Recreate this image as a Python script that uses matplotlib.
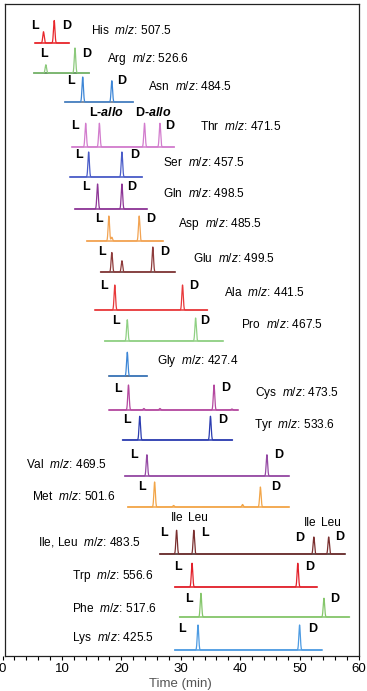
import numpy as np
import matplotlib.pyplot as plt

plt.rcParams['font.family'] = ['Liberation Sans', 'DejaVu Sans']
plt.rcParams['mathtext.fontset'] = 'custom'
plt.rcParams['mathtext.rm'] = 'Liberation Sans'
plt.rcParams['mathtext.it'] = 'Liberation Sans:italic'
plt.rcParams['mathtext.bf'] = 'Liberation Sans:bold'
plt.rcParams['mathtext.bfit'] = 'Liberation Sans:italic:bold'

# data, top to bottom
names = ['His', 'Arg', 'Asn', 'Thr', 'Ser', 'Gln', 'Asp', 'Glu', 'Ala', 'Pro',
         'Gly', 'Cys', 'Tyr', 'Val', 'Met', 'Ile, Leu', 'Trp', 'Phe', 'Lys']
mz = ['507.5', '526.6', '484.5', '471.5', '457.5', '498.5', '485.5', '499.5', '441.5', '467.5',
      '427.4', '473.5', '533.6', '469.5', '501.6', '483.5', '556.6', '517.6', '425.5']
t_start = [5.5, 5.3, 10.5, 11.7, 11.4, 12.2, 14.2, 16.5, 15.6, 17.2,
           18.0, 18.0, 20.2, 20.6, 21.1, 26.5, 29.0, 29.8, 29.0]
t_end = [11.2, 14.5, 22.0, 28.9, 23.5, 24.3, 27.0, 29.0, 34.5, 37.1,
         24.3, 39.6, 38.7, 48.2, 48.2, 57.6, 52.9, 58.4, 53.7]
peak_times = [[6.9, 8.7], [7.3, 12.2], [13.5, 18.4], [14.0, 16.3, 23.9, 26.5],
              [14.5, 20.1], [16.0, 20.1], [17.9, 18.4, 23.0], [18.4, 20.1, 25.3],
              [18.9, 30.3], [21.0, 32.5], [21.0], [21.2, 23.8, 26.5, 35.6, 38.6],
              [23.1, 35.0], [24.3, 44.5], [25.6, 28.8, 40.4, 43.4],
              [29.3, 32.2, 52.4, 54.9], [31.9, 49.7], [33.4, 54.1], [32.9, 50.0]]
peak_heights = [[0.45, 0.9], [0.33, 1.0], [1.0, 0.85], [0.95, 0.95, 0.95, 0.95],
                [1.0, 1.0], [1.0, 1.0], [1.0, 0.15, 1.0], [0.78, 0.45, 1.0],
                [1.0, 1.0], [0.85, 0.92], [0.95], [1.0, 0.06, 0.06, 1.0, 0.04],
                [0.95, 0.95], [0.85, 0.85], [1.0, 0.06, 0.1, 0.8],
                [0.95, 0.95, 0.68, 0.68], [0.95, 0.95], [0.95, 0.75], [1.0, 1.0]]

colors = ['#e8262b', '#8cc97c', '#3d86d6', '#d27ccd', '#4a5cc8', '#8d3596', '#f2a352',
          '#8e3b3b', '#e8383a', '#8fd083', '#3d86d6', '#b4489f', '#2b3cb0', '#9448a3',
          '#f2a548', '#7a2f2f', '#e2202a', '#85c66b', '#4d9be2']
base_colors = ['#e8262b', '#3f7f3a', '#5a6f8c', '#d27ccd', '#4a5cc8', '#8d3596', '#f2a352',
               '#5e2a2a', '#e8383a', '#8fd083', '#2f4a70', '#b4489f', '#2b3cb0', '#9448a3',
               '#f2a548', '#3a1c1c', '#e2202a', '#85c66b', '#4d9be2']

# layout (pixel rows of baselines, label positions in pixels)
rows = [43, 73, 102, 147, 177, 209, 241, 272, 310, 341, 376, 410, 440, 476, 507, 554, 587, 617, 650]
name_pos = [(91, 31), (107, 59), (148, 87), (200, 127), (163, 162), (163, 194), (178, 224),
            (193, 258), (224, 292), (241, 325), (157, 361), (255, 393), (254, 425),
            (26, 464), (32, 496), (38, 542), (72, 576), (72, 609), (72, 638)]
ld_labels = [('L', 35, 26), ('D', 67, 26), ('L', 44, 54), ('D', 87, 54),
             ('L', 71, 81), ('D', 122, 81), ('L', 75, 126), ('D', 170, 126),
             ('L', 79, 155), ('D', 135, 155), ('L', 86, 187), ('D', 132, 187),
             ('L', 99, 219), ('D', 151, 219), ('L', 102, 252), ('D', 165, 252),
             ('L', 104, 286), ('D', 194, 286), ('L', 116, 321), ('D', 205, 321),
             ('L', 118, 389), ('D', 226, 388), ('L', 127, 420), ('D', 223, 420),
             ('L', 134, 455), ('D', 279, 455), ('L', 142, 487), ('D', 276, 487),
             ('L', 164, 533), ('L', 205, 533), ('D', 300, 538), ('D', 340, 537),
             ('L', 178, 567), ('D', 310, 567), ('L', 189, 599), ('D', 335, 599),
             ('L', 182, 629), ('D', 313, 629)]
W, H = 367, 691
sigma = 0.12
scale = 25

fig = plt.figure(figsize=(W / 100, H / 100), dpi=100)
ax = fig.add_axes([2.5 / W, 35 / H, 356.5 / W, 652 / H])
ax.set_xlim(0, 60)
ax.set_ylim(0, 652)

for i in range(len(names)):
    base = 656 - rows[i]
    t = np.linspace(t_start[i], t_end[i], 3000)
    y = np.zeros_like(t)
    for p, h in zip(peak_times[i], peak_heights[i]):
        y += h * scale * np.exp(-(t - p) ** 2 / (2 * sigma ** 2))
    ax.plot([t_start[i], t_end[i]], [base, base], color=base_colors[i], lw=1.1, zorder=2)
    ax.plot(t, base + y, color=colors[i], lw=0.9, zorder=3)


def ftext(px, py, s, **kw):
    fig.text(px / W, 1 - py / H, s, **kw)


for i, (px, py) in enumerate(name_pos):
    ftext(px, py, names[i] + r'  $\mathit{m/z}$: ' + mz[i], fontsize=8.6, va='center', ha='left')

for s, px, py in ld_labels:
    ftext(px, py, s, fontsize=9, fontweight='bold', ha='center', va='center')

ftext(106, 112, r'L-$\mathbfit{allo}$', fontsize=9, fontweight='bold', ha='center', va='center')
ftext(153, 112, r'D-$\mathbfit{allo}$', fontsize=9, fontweight='bold', ha='center', va='center')
for s, px, py in [('Ile', 177, 518), ('Leu', 198, 518), ('Ile', 310, 523), ('Leu', 331, 523)]:
    ftext(px, py, s, fontsize=8.6, ha='center', va='center')

for side in ['left', 'right', 'top', 'bottom']:
    ax.spines[side].set_linewidth(0.9)
    ax.spines[side].set_color('#222222')
ax.spines['left'].set_position(('data', 0.4))
ax.spines['top'].set_bounds(0.4, 60)
ax.spines['bottom'].set_bounds(0.4, 60)

ax.set_xticks(range(0, 61, 10))
ax.set_xticks(range(0, 61, 2), minor=True)
ax.tick_params(axis='x', which='both', direction='out', length=3, width=0.8, labelsize=9.5, pad=2)
ax.set_yticks([])
ax.set_xlabel('Time (min)', fontsize=9.5, color='#555555', labelpad=2)

fig.savefig('out.png', dpi=100)
